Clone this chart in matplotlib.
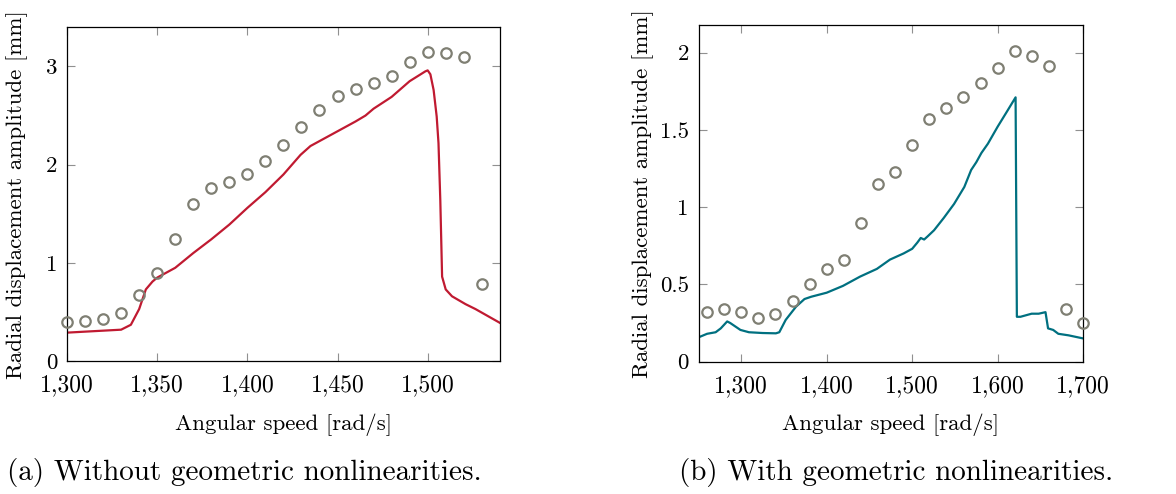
"""Radial displacement amplitude vs angular speed, with and without geometric nonlinearities."""

import matplotlib

matplotlib.use("Agg")
import matplotlib.pyplot as plt
from matplotlib.ticker import FuncFormatter, MultipleLocator

plt.rcParams["font.family"] = ["cmr10", "DejaVu Serif"]
plt.rcParams["mathtext.fontset"] = "cm"
plt.rcParams["axes.formatter.use_mathtext"] = True

# (a) without geometric nonlinearities
speed_a_exp = [1300, 1310, 1320, 1330, 1340, 1350, 1360, 1370, 1380, 1390, 1400, 1410,
               1420, 1430, 1440, 1450, 1460, 1470, 1480, 1490, 1500, 1510, 1520, 1530]
amp_a_exp = [0.40, 0.41, 0.43, 0.49, 0.67, 0.90, 1.24, 1.60, 1.76, 1.82, 1.90, 2.04,
             2.20, 2.38, 2.56, 2.70, 2.77, 2.83, 2.90, 3.05, 3.15, 3.14, 3.10, 0.79]
speed_a_sim = [1300, 1310, 1320, 1330, 1335.4, 1340, 1343.7, 1347.4, 1350, 1360, 1370,
               1380, 1390, 1400, 1410, 1420, 1429.5, 1435, 1440, 1450, 1460, 1465.5,
               1470, 1480, 1490, 1498.7, 1500, 1501.5, 1503.3, 1505, 1506, 1507, 1508,
               1510, 1513.5, 1521, 1526.5, 1540]
amp_a_sim = [0.29, 0.30, 0.31, 0.32, 0.37, 0.53, 0.73, 0.81, 0.85, 0.95, 1.10,
             1.24, 1.39, 1.56, 1.72, 1.90, 2.10, 2.19, 2.24, 2.34, 2.44, 2.50,
             2.57, 2.69, 2.85, 2.95, 2.96, 2.92, 2.76, 2.49, 2.22, 1.64, 0.86,
             0.73, 0.66, 0.58, 0.53, 0.39]

# (b) with geometric nonlinearities
speed_b_exp = [1260, 1280, 1300, 1320, 1340, 1360, 1380, 1400, 1420, 1440, 1460, 1480,
               1500, 1520, 1540, 1560, 1580, 1600, 1620, 1640, 1660, 1680, 1700]
amp_b_exp = [0.32, 0.34, 0.32, 0.28, 0.31, 0.39, 0.50, 0.60, 0.66, 0.90, 1.15, 1.23,
             1.40, 1.57, 1.64, 1.71, 1.80, 1.90, 2.01, 1.98, 1.91, 0.34, 0.25]
speed_b_sim = [1250, 1260, 1270, 1276, 1283.5, 1287, 1299, 1309, 1325, 1340.5, 1344.5,
               1352, 1364, 1374, 1382, 1400, 1419, 1439, 1458.7, 1474, 1490, 1500,
               1506, 1510, 1514, 1518, 1525.6, 1537, 1549, 1561, 1569, 1575, 1581,
               1588.6, 1600, 1610, 1621, 1622.5, 1626.7, 1639.8, 1648, 1656, 1659,
               1665, 1671, 1683, 1700]
amp_b_sim = [0.157, 0.18, 0.19, 0.215, 0.26, 0.25, 0.205, 0.19, 0.185, 0.183, 0.19,
             0.27, 0.355, 0.405, 0.42, 0.446, 0.49, 0.55, 0.60, 0.66, 0.70, 0.73,
             0.77, 0.80, 0.79, 0.81, 0.85, 0.93, 1.02, 1.13, 1.24, 1.29, 1.35,
             1.41, 1.52, 1.61, 1.71, 0.29, 0.29, 0.31, 0.31, 0.32, 0.215,
             0.205, 0.18, 0.17, 0.15]

GRAY = "#7f7f73"
RED = "#c01a31"
TEAL = "#007080"


def thousands(value, _pos):
    return f"{value:,.0f}"


def plain(value, _pos):
    return f"{value:g}"


def style_axes(ax, xlim, ylim, xstep, ystep, xlabel_y, ylabel_x):
    ax.set_xlim(*xlim)
    ax.set_ylim(*ylim)
    ax.xaxis.set_major_locator(MultipleLocator(xstep))
    ax.yaxis.set_major_locator(MultipleLocator(ystep))
    ax.xaxis.set_major_formatter(FuncFormatter(thousands))
    ax.yaxis.set_major_formatter(FuncFormatter(plain))
    ax.tick_params(direction="in", length=6, width=0.8, color="#909090",
                   top=True, right=True, labelsize=17)
    ax.tick_params(axis="x", pad=9.5)
    ax.tick_params(axis="y", pad=7, labelsize=16.5)
    for spine in ax.spines.values():
        spine.set_linewidth(0.9)
    ax.set_xlabel("Angular speed [rad/s]", fontsize=16.5)
    ax.set_ylabel("Radial displacement amplitude [mm]", fontsize=16.5)
    ax.xaxis.set_label_coords(0.5, xlabel_y)
    ax.yaxis.set_label_coords(ylabel_x, 0.5)


fig = plt.figure(figsize=(11.76, 4.94), dpi=100)
ax_a = fig.add_axes([0.057, 0.269, 0.368, 0.676])
ax_b = fig.add_axes([0.594, 0.268, 0.327, 0.682])

ax_a.plot(speed_a_sim, amp_a_sim, color=RED, linewidth=1.6, zorder=2)
ax_a.plot(speed_a_exp, amp_a_exp, linestyle="none", marker="o", markersize=7.5,
          markerfacecolor="none", markeredgecolor=GRAY, markeredgewidth=1.6,
          clip_on=False, zorder=3)
style_axes(ax_a, (1300, 1540), (0, 3.4), 50, 1, -0.158, -0.09)

ax_b.plot(speed_b_sim, amp_b_sim, color=TEAL, linewidth=1.6, zorder=2)
ax_b.plot(speed_b_exp, amp_b_exp, linestyle="none", marker="o", markersize=7.5,
          markerfacecolor="none", markeredgecolor=GRAY, markeredgewidth=1.6,
          clip_on=False, zorder=3)
style_axes(ax_b, (1250, 1700), (0, 2.18), 100, 0.5, -0.155, -0.115)

fig.text(0.006, 0.028, "(a) Without geometric nonlinearities.", fontsize=21,
         ha="left", va="baseline")
fig.text(0.577, 0.028, "(b) With geometric nonlinearities.", fontsize=21,
         ha="left", va="baseline")

fig.savefig("out.png", dpi=100)
